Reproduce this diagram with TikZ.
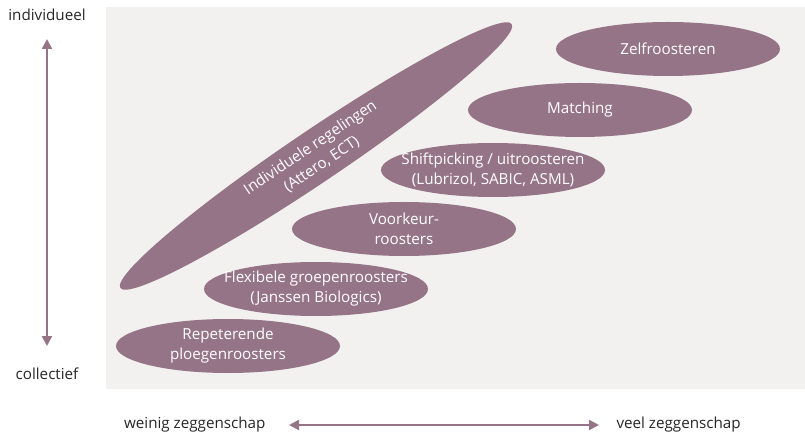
\documentclass[tikz,border=0pt]{standalone}
\usepackage{fontspec}
\setmainfont{Open Sans}
\usetikzlibrary{shapes.geometric,arrows.meta}
\definecolor{plum}{HTML}{967487}
\definecolor{bgray}{HTML}{F2F1EF}
\tikzset{
  blob/.style={ellipse, fill=plum, text=white, inner xsep=-25pt, inner ysep=-6pt, align=center, font=\fontsize{15.2}{20}\selectfont},
  axislbl/.style={font=\fontsize{15.2}{18}\selectfont, text=black!85},
  axisarrow/.style={plum, line width=2.2pt, {Triangle[length=10pt,width=10pt]}-{Triangle[length=10pt,width=10pt]}}
}
\begin{document}
\begin{tikzpicture}[x=1pt,y=-1pt]
\useasboundingbox (0,0) rectangle (805,435);
\fill[bgray] (106,7) rectangle (805,389);
\node[blob, minimum width=224pt, minimum height=54pt] (zelf) at (668,49) {Zelfroosteren};
\node[blob, minimum width=224pt, minimum height=54pt] (match) at (580,110) {Matching};
\node[blob, minimum width=224pt, minimum height=54pt] (shift) at (493,170) {Shiftpicking / uitroosteren\\(Lubrizol, SABIC, ASML)};
\node[blob, minimum width=224pt, minimum height=54pt] (voork) at (404,229) {Voorkeur-\\roosters};
\node[blob, minimum width=224pt, minimum height=54pt] (flex) at (316,289) {Flexibele groepenroosters\\(Janssen Biologics)};
\node[blob, minimum width=224pt, minimum height=54pt] (rep) at (228,346) {Repeterende\\ploegenroosters};
\node[blob, minimum width=472pt, minimum height=52pt, rotate=34] (indiv) at (316,156) {Individuele regelingen\\(Attero, ECT)};
\node[axislbl] (top) at (47,15) {individueel};
\node[axislbl] (bot) at (47,374) {collectief};
\node[axislbl, anchor=east] (left) at (269,425) {weinig zeggenschap};
\node[axislbl, anchor=west] (right) at (613,425) {veel zeggenschap};
\coordinate (vt) at (47,39);
\coordinate (vb) at (47,346);
\coordinate (hl) at (289,425);
\coordinate (hr) at (599,425);
\draw[axisarrow] (vt) -- (vb);
\draw[axisarrow] (hl) -- (hr);
\end{tikzpicture}
\end{document}
